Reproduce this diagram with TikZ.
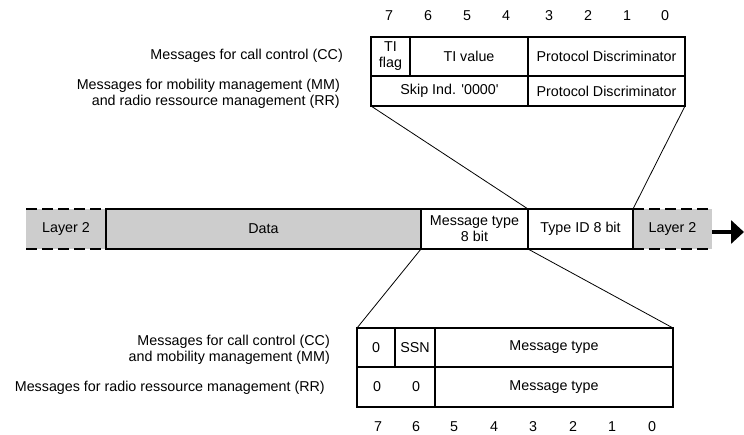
\documentclass[tikz,border=0pt]{standalone}
\usepackage{fontspec}
\setmainfont{Liberation Sans}[Ligatures=TeXOff]
\usetikzlibrary{arrows.meta}
\definecolor{segGray}{RGB}{205,205,205}
\begin{document}
\begin{tikzpicture}[x=1pt,y=-1pt,
  every node/.style={font=\fontsize{14.3}{16}\selectfont},
  cell/.style={draw, line width=1.3pt, inner sep=0pt, outer sep=0pt, align=center},
  seg/.style={cell, minimum height=40pt},
  layertwo/.style={fill=segGray, inner sep=0pt, outer sep=0pt, minimum height=40pt},
  dashedge/.style={line width=2.6pt, dash pattern=on 11pt off 5pt},
  link/.style={line width=0.8pt},
  bitno/.style={inner sep=0pt},
  caption/.style={align=right, anchor=east, inner sep=0pt}]
\useasboundingbox (0,0) rectangle (744,434);

% ---- frame strip ----
\node[layertwo, minimum width=80pt] (l2l) at (66,229) {Layer 2};
\node[seg, fill=segGray, minimum width=315pt] (data) at (263.5,229) {Data};
\node[seg, fill=white, minimum width=107pt] (msg) at (474.5,229) {Message type\\8 bit};
\node[seg, fill=white, minimum width=105pt] (tid) at (580.5,229) {Type ID 8 bit};
\node[layertwo, minimum width=79pt] (l2r) at (672.5,229) {Layer 2};
\draw[dashedge] (l2l.north west) -- (l2l.north east);
\draw[dashedge] (l2l.south west) -- (l2l.south east);
\draw[dashedge] (l2r.north west) -- (l2r.north east);
\draw[dashedge] (l2r.south west) -- (l2r.south east);
\draw[line width=1.3pt] (l2r.north west) -- (l2r.south west);
\coordinate (out) at (744,232);
\draw[line width=3.4pt, -{Triangle[length=13pt 0 0,width=23pt 0 0]}] ([yshift=-3pt]l2r.east) -- (out);

% ---- upper octet (type ID) ----
\node[cell, minimum width=39pt, minimum height=39pt] (tiflag) at (390.5,56.5) {TI\\flag};
\node[cell, minimum width=118pt, minimum height=39pt] (tival) at (469,56.5) {TI value};
\node[cell, minimum width=157pt, minimum height=39pt] (pdA) at (606.5,56.5) {Protocol Discriminator};
\node[cell, minimum width=157pt, minimum height=30pt] (skip) at (449.5,91) {Skip Ind. '0000'};
\node[cell, minimum width=157pt, minimum height=30pt] (pdB) at (606.5,91) {Protocol Discriminator};

\node[bitno] (ta7) at (389,16) {7};
\node[bitno] (ta6) at (428,16) {6};
\node[bitno] (ta5) at (467,16) {5};
\node[bitno] (ta4) at (506,16) {4};
\node[bitno] (ta3) at (549,16) {3};
\node[bitno] (ta2) at (588,16) {2};
\node[bitno] (ta1) at (627,16) {1};
\node[bitno] (ta0) at (665,16) {0};

\node[caption] (capA) at (343,56) {Messages for call control (CC)};
\node[caption] (capB) at (340,94) {Messages for mobility management (MM)\\and radio ressource management (RR)};

% ---- lower octet (message type) ----
\node[cell, minimum width=38pt, minimum height=39pt] (zA) at (376,347.5) {0};
\node[cell, minimum width=40pt, minimum height=39pt] (ssn) at (415,347.5) {SSN};
\node[cell, minimum width=238pt, minimum height=39pt] (mtA) at (554,347.5) {Message type};
\node[cell, minimum width=78pt, minimum height=40pt] (zz) at (396,387) {};
\node[inner sep=0pt] (zB) at (377,387) {0};
\node[inner sep=0pt] (zC) at (416,387) {0};
\node[cell, minimum width=238pt, minimum height=40pt] (mtB) at (554,387) {Message type};

\node[bitno] (tb7) at (378,427) {7};
\node[bitno] (tb6) at (416,427) {6};
\node[bitno] (tb5) at (454,427) {5};
\node[bitno] (tb4) at (494,427) {4};
\node[bitno] (tb3) at (533,427) {3};
\node[bitno] (tb2) at (573,427) {2};
\node[bitno] (tb1) at (612,427) {1};
\node[bitno] (tb0) at (652,427) {0};

\node[caption] (capC) at (330,350) {Messages for call control (CC)\\and mobility management (MM)};
\node[caption] (capD) at (325,388) {Messages for radio ressource management (RR)};

% ---- expansion lines ----
\draw[link] (skip.south west) -- (msg.north east);
\draw[link] (pdB.south east) -- (tid.north east);
\draw[link] (msg.south west) -- (zA.north west);
\draw[link] (msg.south east) -- (mtA.north east);
\end{tikzpicture}
\end{document}
